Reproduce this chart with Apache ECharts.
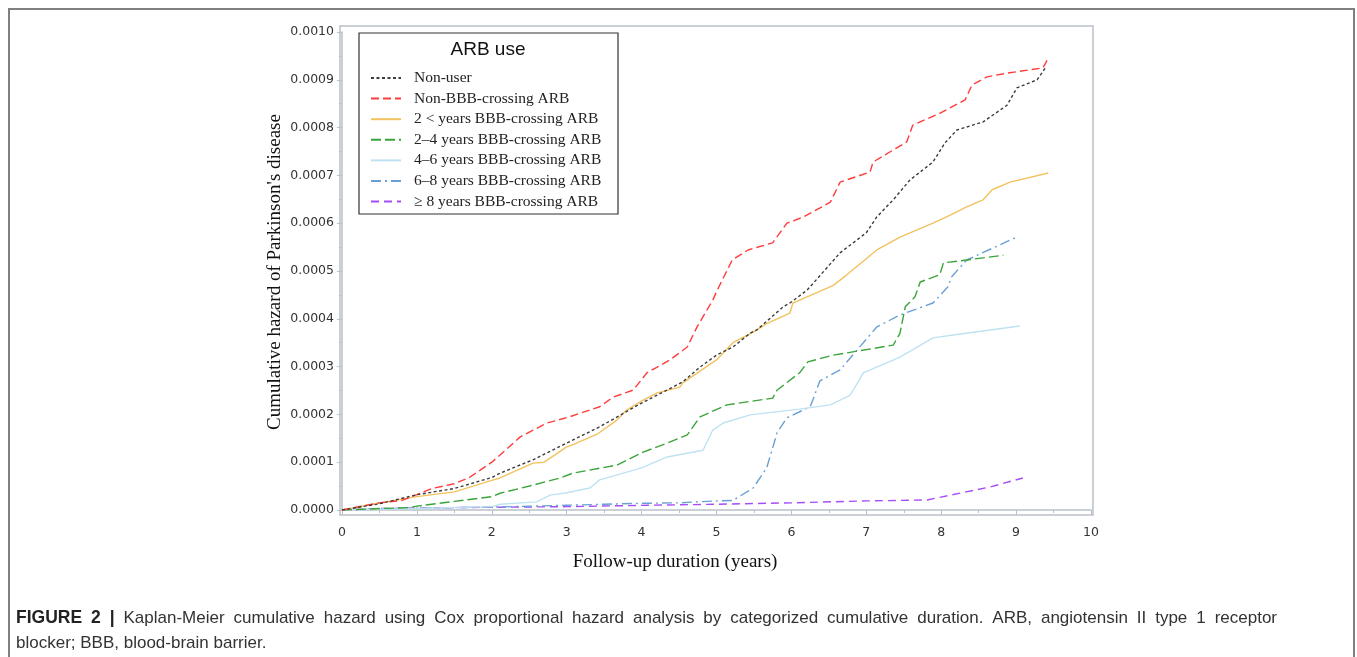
<!DOCTYPE html>
<html>
<head>
<meta charset="utf-8">
<script src="https://cdn.jsdelivr.net/npm/echarts@6/dist/echarts.min.js"></script>
<style>
html,body{margin:0;padding:0;background:#fff;}
#chart{width:1357px;height:657px;}
</style>
</head>
<body>
<div id="chart"></div>
<script>
// ---- data ----
const seriesNames = [
  'Non-user',
  'Non-BBB-crossing ARB',
  '2 < years BBB-crossing ARB',
  '2\u20134 years BBB-crossing ARB',
  '4\u20136 years BBB-crossing ARB',
  '6\u20138 years BBB-crossing ARB',
  '\u2265 8 years BBB-crossing ARB'
];
const xTicks = [0,1,2,3,4,5,6,7,8,9,10];
const yTicks = [0,0.0001,0.0002,0.0003,0.0004,0.0005,0.0006,0.0007,0.0008,0.0009,0.0010];

const nonUser = [[0,0],[0.5,0.000013],[1,0.000032],[1.5,0.000045],[2,0.000068],[2.11,0.000077],[2.55,0.000105],[3,0.00014],[3.44,0.000174],[3.98,0.000222],[4.34,0.000251],[4.55,0.000268],[4.78,0.000299],[5.0,0.000324],[5.22,0.000341],[5.45,0.00037],[5.54,0.000377],[5.89,0.000425],[5.98,0.000433],[6.21,0.00046],[6.65,0.000538],[7.0,0.00058],[7.14,0.000613],[7.36,0.000649],[7.58,0.00069],[7.89,0.000728],[8.05,0.000768],[8.21,0.000795],[8.56,0.000812],[8.88,0.000847],[9.01,0.000883],[9.28,0.0009],[9.39,0.000925]];
const nonBBB = [[0,0],[0.5,0.000015],[0.8,0.00002],[1,0.000032],[1.2,0.000045],[1.5,0.000055],[1.7,0.000068],[2,0.0001],[2.11,0.000115],[2.38,0.000153],[2.74,0.000182],[3.04,0.000195],[3.44,0.000216],[3.62,0.000236],[3.89,0.000251],[4.07,0.000287],[4.38,0.000314],[4.61,0.000341],[4.74,0.000383],[4.95,0.000439],[5.01,0.00046],[5.21,0.000523],[5.42,0.000544],[5.75,0.000559],[5.94,0.0006],[6.16,0.000613],[6.52,0.000644],[6.65,0.000686],[7.05,0.000707],[7.09,0.000728],[7.54,0.00077],[7.62,0.000805],[7.98,0.00083],[8.32,0.000858],[8.41,0.000889],[8.61,0.000906],[8.88,0.000914],[9.36,0.000925],[9.43,0.000946]];
const lt2 = [[0,0],[0.5,0.000015],[1,0.000028],[1.5,0.000038],[2,0.000062],[2.11,0.000067],[2.55,0.000098],[2.7,0.0001],[3,0.000132],[3.1,0.000138],[3.4,0.000158],[3.67,0.000188],[3.8,0.000209],[4.02,0.00023],[4.21,0.000245],[4.51,0.000257],[4.55,0.000266],[5.0,0.000314],[5.22,0.00035],[5.49,0.000372],[5.67,0.00039],[5.98,0.000412],[6.02,0.000433],[6.56,0.00047],[6.74,0.000492],[7.14,0.000544],[7.45,0.000571],[7.89,0.0006],[8.12,0.000617],[8.34,0.000634],[8.56,0.000649],[8.68,0.00067],[8.92,0.000686],[9.43,0.000705]];
const y2to4 = [[0,0],[0.5,0.000003],[0.9,0.000005],[1,0.000008],[1.5,0.000018],[2,0.000028],[2.11,0.000035],[2.55,0.000052],[2.91,0.000067],[3.08,0.000077],[3.67,0.000094],[4.02,0.000121],[4.34,0.00014],[4.61,0.000157],[4.78,0.000195],[5.14,0.00022],[5.75,0.000234],[5.81,0.000251],[6.11,0.000287],[6.22,0.00031],[6.56,0.000324],[7.36,0.000345],[7.45,0.00037],[7.52,0.000425],[7.65,0.000446],[7.72,0.000477],[7.98,0.000492],[8.03,0.000517],[8.34,0.000523],[8.83,0.000533]];
const y4to6 = [[0,0],[1,0.000003],[2,0.000007],[2.11,0.000012],[2.6,0.000017],[2.78,0.000031],[3,0.000036],[3.31,0.000046],[3.44,0.000063],[4,0.000088],[4.34,0.000111],[4.82,0.000125],[4.95,0.000167],[5.09,0.000182],[5.45,0.000199],[6.11,0.000211],[6.52,0.00022],[6.78,0.00024],[6.88,0.000265],[6.96,0.000287],[7.45,0.00032],[7.89,0.00036],[8.16,0.000366],[9.05,0.000385]];
const y6to8 = [[0,0],[1,0.000004],[2,0.000006],[2.5,0.000008],[3,0.00001],[3.5,0.000012],[4,0.000014],[4.5,0.000015],[5,0.000019],[5.22,0.00002],[5.27,0.000025],[5.49,0.000046],[5.67,0.000088],[5.81,0.000162],[5.94,0.000193],[6.25,0.000216],[6.3,0.000236],[6.38,0.00027],[6.65,0.000293],[7.14,0.000383],[7.45,0.000408],[7.89,0.000433],[8.09,0.000467],[8.14,0.000488],[8.34,0.000523],[9.01,0.000571]];
const ge8 = [[0,0],[0.5,0.000003],[1.5,0.000005],[3,0.000007],[4.11,0.00001],[5,0.000012],[6,0.000015],[7,0.000019],[7.81,0.000021],[8.12,0.000031],[8.65,0.000048],[9.09,0.000067]];

const seriesData = [nonUser, nonBBB, lt2, y2to4, y4to6, y6to8, ge8];
const seriesColors = ['#3c3c3c','#ff3c3c','#f2c25e','#3aa43a','#bfe2f2','#6a9fd6','#a64cf8'];
const seriesDash = [[3,2.5],[8,4],'solid',[10,4],'solid',[10,4,2,4],[8,5]];

const captionBold = 'FIGURE 2 |';
const captionLine1 = 'Kaplan-Meier cumulative hazard using Cox proportional hazard analysis by categorized cumulative duration. ARB, angiotensin II type 1 receptor';
const captionLine2 = 'blocker; BBB, blood-brain barrier.';

const chart = echarts.init(document.getElementById('chart'), null, {renderer:'canvas'});

const series = seriesNames.map((n,i)=>({
  name:n, type:'line', data:seriesData[i], symbol:'none', showSymbol:false,
  lineStyle:{color:seriesColors[i], width:1.4, type:seriesDash[i]},
  itemStyle:{color:seriesColors[i]},
  z: 10-i
}));

// justified caption line 1 (word positions from measured widths)
const capFont = '17px "Liberation Sans"';
const capBoldFont = 'bold 17.5px "Liberation Sans"';
const mctx = document.createElement('canvas').getContext('2d');
const words = [];
captionBold.split(' ').forEach(w=>words.push({t:w, f:capBoldFont, c:'#222'}));
captionLine1.split(' ').forEach(w=>words.push({t:w, f:capFont, c:'#333'}));
let total = 0;
words.forEach(w=>{ mctx.font = w.f; w.w = mctx.measureText(w.t).width; total += w.w; });
const capLeft = 16, capRight = 1277;
const gap = (capRight - capLeft - total) / (words.length - 1);
let cx = capLeft;
const captionGraphics = words.map(w=>{
  const g = {type:'text', silent:true, x:cx, y:618, style:{text:w.t, textVerticalAlign:'middle', font:w.f, fill:w.c}};
  cx += w.w + gap;
  return g;
});

const axisGrey = '#b9c1c9';

chart.setOption({
  animation:false,
  backgroundColor:'#fff',
  grid:{left:342, right:266, top:32, bottom:147, containLabel:false},
  xAxis:{
    type:'value', min:xTicks[0], max:xTicks[xTicks.length-1], interval:1, offset:5,
    axisLine:{show:true, lineStyle:{color:axisGrey, width:1.5}},
    axisTick:{show:true, inside:false, length:5, lineStyle:{color:axisGrey}},
    minorTick:{show:true, splitNumber:2, length:3, lineStyle:{color:axisGrey}},
    splitLine:{show:false},
    axisLabel:{margin:11, color:'#333', fontFamily:'DejaVu Sans', fontSize:12.5}
  },
  yAxis:{
    type:'value', min:yTicks[0], max:yTicks[yTicks.length-1], interval:0.0001, offset:2,
    axisLine:{show:true, lineStyle:{color:axisGrey, width:1.5}},
    axisTick:{show:true, inside:false, length:5, lineStyle:{color:axisGrey}},
    minorTick:{show:true, splitNumber:2, length:3, lineStyle:{color:axisGrey}},
    splitLine:{show:false},
    axisLabel:{margin:6, color:'#333', fontFamily:'DejaVu Sans', fontSize:12.5, formatter:v=>v.toFixed(4)}
  },
  legend:{
    show:true, orient:'vertical', left:370, top:70, itemWidth:30, itemHeight:14, itemGap:4.6,
    padding:0, data:seriesNames, itemStyle:{opacity:0},
    textStyle:{fontFamily:'Liberation Serif', fontSize:15.5, color:'#222', padding:[0,0,0,8]}
  },
  graphic:[
    {type:'polyline', silent:true, z:0, shape:{points:[[9,660],[9,9],[1354,9],[1354,660]]}, style:{stroke:'#808080', lineWidth:2, fill:null}},
    {type:'rect', silent:true, z:0, shape:{x:340, y:26, width:753, height:489}, style:{stroke:axisGrey, lineWidth:1.5, fill:null}},
    {type:'rect', silent:true, z:0, shape:{x:359, y:33, width:259, height:181}, style:{stroke:'#333', lineWidth:1.2, fill:null}},
    {type:'text', silent:true, x:488, y:50, style:{text:'ARB use', textAlign:'center', textVerticalAlign:'middle', font:'19px "Liberation Sans"', fill:'#111'}},
    {type:'text', silent:true, x:675, y:562, style:{text:'Follow-up duration (years)', textAlign:'center', textVerticalAlign:'middle', font:'19px "Liberation Serif"', fill:'#111'}},
    {type:'text', silent:true, x:275, y:272, rotation:Math.PI/2, style:{text:"Cumulative hazard of Parkinson's disease", textAlign:'center', textVerticalAlign:'middle', font:'19px "Liberation Serif"', fill:'#111'}},
    {type:'text', silent:true, x:16, y:643, style:{text:captionLine2, textVerticalAlign:'middle', font:capFont, fill:'#333'}}
  ].concat(captionGraphics),
  series:series
});
</script>
</body>
</html>
